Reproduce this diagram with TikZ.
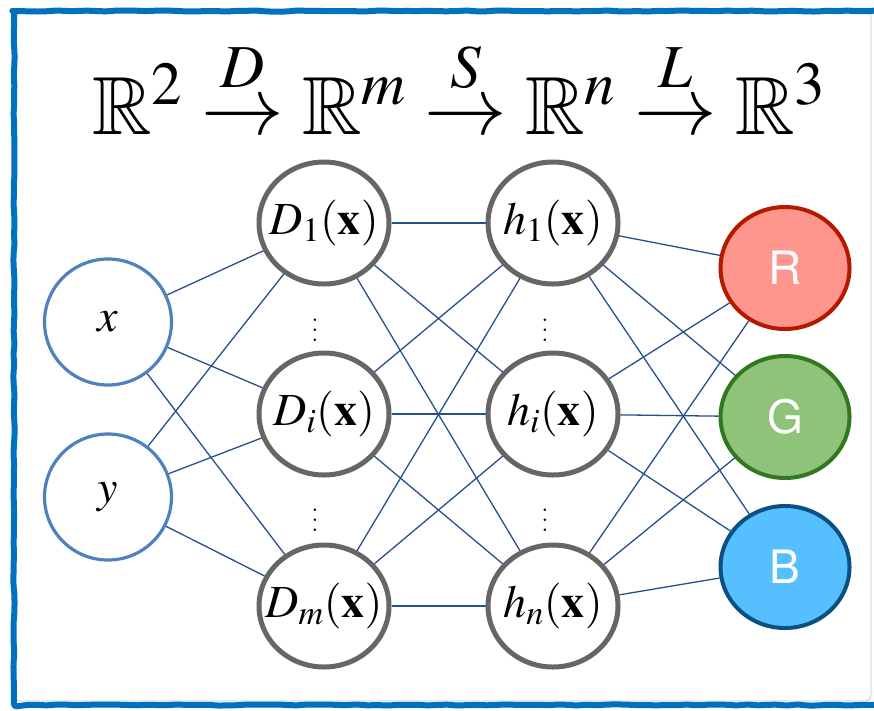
\documentclass[tikz,border=0pt]{standalone}
\usepackage[no-math]{fontspec}
\usepackage{amssymb}
\usepackage{mathptmx}
\usepackage{graphicx}
\usetikzlibrary{shapes.geometric,decorations.pathmorphing}
\newfontfamily\rgbfont{TeX Gyre Heros}

\definecolor{frameblue}{RGB}{0,112,192}
\definecolor{inblue}{RGB}{79,129,189}
\definecolor{hgray}{RGB}{102,102,102}
\definecolor{linkblue}{RGB}{40,80,140}
\definecolor{rfill}{RGB}{255,150,142}
\definecolor{rdraw}{RGB}{180,25,0}
\definecolor{gfill}{RGB}{143,195,122}
\definecolor{gdraw}{RGB}{50,120,30}
\definecolor{bfill}{RGB}{86,192,255}
\definecolor{bdraw}{RGB}{10,80,130}

% unit labels take no width, so the ellipse keeps its given size
\newcommand{\unitlabel}[1]{\makebox[0pt]{#1}}

\tikzset{
  inunit/.style={ellipse, draw=inblue, line width=3.2pt, fill=white,
    minimum width=127pt, minimum height=126pt, inner sep=0pt,
    font=\fontsize{46}{46}\selectfont},
  hidunit/.style={ellipse, draw=hgray, line width=5pt, fill=white,
    minimum width=130pt, minimum height=122pt, inner sep=0pt,
    font=\fontsize{46}{46}\selectfont},
  outunit/.style={ellipse, line width=4pt,
    minimum width=129pt, minimum height=122pt, inner sep=0pt,
    text=white, font=\rgbfont\fontsize{46}{46}\selectfont},
  link/.style={draw=linkblue, line width=1.3pt},
  dotsnode/.style={inner sep=0pt, font=\fontsize{10}{10}\selectfont},
}

\begin{document}
\begin{tikzpicture}[x=1pt,y=-1pt]
  \useasboundingbox (0,0) rectangle (874,710);
  \pgfmathsetseed{7}

  % white panel and blue frame (its right side runs past the page edge)
  \draw[black!22, line width=0.8pt, fill=white, rounded corners=6pt] (14,11) rectangle (871,701);
  \begin{scope}
    \clip (0,0) rectangle (874,710);
    \draw[frameblue, line width=6pt, line cap=round,
          decorate, decoration={random steps, segment length=10pt, amplitude=0.6pt},
          rounded corners=3pt] (14,11) rectangle (900,705);
  \end{scope}

  % mapping chain
  \node[anchor=base, inner sep=0pt, font=\fontsize{82.5}{92}\selectfont] (chain) at (459,134)
    {$\mathbb{R}^2 \stackrel{D}{\rightarrow} \mathbb{R}^m \stackrel{S}{\rightarrow} \mathbb{R}^n \stackrel{L}{\rightarrow} \mathbb{R}^3$};

  % units
  \node[inunit] (inx) at (108,322) {\unitlabel{$x$}};
  \node[inunit] (iny) at (108,497) {\unitlabel{$y$}};

  \node[hidunit] (d1) at (324,223) {\unitlabel{$D_1(\mathbf{x})$}};
  \node[hidunit] (di) at (324,414) {\unitlabel{$D_i(\mathbf{x})$}};
  \node[hidunit] (dm) at (324,606) {\unitlabel{$D_m(\mathbf{x})$}};

  \node[hidunit] (h1) at (553,223) {\unitlabel{$h_1(\mathbf{x})$}};
  \node[hidunit] (hi) at (553,414) {\unitlabel{$h_i(\mathbf{x})$}};
  \node[hidunit] (hn) at (553,606) {\unitlabel{$h_n(\mathbf{x})$}};

  \node[outunit, fill=rfill, draw=rdraw] (oR) at (785,268) {R};
  \node[outunit, fill=gfill, draw=gdraw] (oG) at (785,417) {G};
  \node[outunit, fill=bfill, draw=bdraw] (oB) at (785,567) {B};

  % vertical ellipses between units
  \node[dotsnode] (dd1) at (315,323) {\scalebox{2.4}{$\vdots$}};
  \node[dotsnode] (dd2) at (315,513) {\scalebox{2.4}{$\vdots$}};
  \node[dotsnode] (hd1) at (545,323) {\scalebox{2.4}{$\vdots$}};
  \node[dotsnode] (hd2) at (545,513) {\scalebox{2.4}{$\vdots$}};

  % connections
  \foreach \a in {inx,iny}
    \foreach \b in {d1,di,dm}
      \draw[link] (\a) -- (\b);
  \foreach \a in {d1,di,dm}
    \foreach \b in {h1,hi,hn}
      \draw[link] (\a) -- (\b);
  \foreach \a in {h1,hi,hn}
    \foreach \b in {oR,oG,oB}
      \draw[link] (\a) -- (\b);
\end{tikzpicture}
\end{document}
